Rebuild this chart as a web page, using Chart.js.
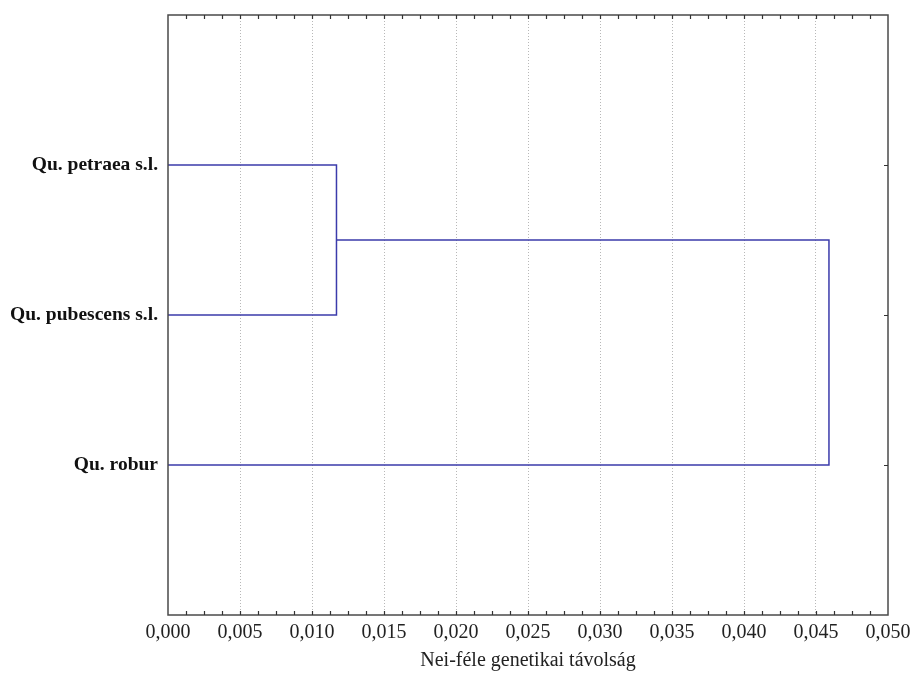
<!DOCTYPE html>
<html>
<head>
<meta charset="utf-8">
<script src="https://cdn.jsdelivr.net/npm/chart.js@4/dist/chart.umd.min.js"></script>
<style>
	body { margin: 0; background: #fff; }
	canvas { display: block; }
</style>
</head>
<body>
<canvas id="dendro" width="915" height="679"></canvas>
<script>
// leaves, top to bottom
const species = ["Qu. petraea s.l.", "Qu. pubescens s.l.", "Qu. robur"];
// merges: [left child, right child, distance]; children >= species.length are earlier merges
const mergeLeft = [0, 3];
const mergeRight = [1, 2];
const mergeHeights = [0.0117, 0.0459];
const xTicks = [0, 0.005, 0.01, 0.015, 0.02, 0.025, 0.03, 0.035, 0.04, 0.045, 0.05];

const lineColor = "#3b3bab";
const serif = "'Liberation Serif', 'Times New Roman', serif";

// position and height of every node (leaves first, then merges)
var nodeY = species.map((s, i) => i + 1);
var nodeH = species.map(() => 0);
var segments = [];
mergeHeights.forEach((h, i) => {
	var a = mergeLeft[i], b = mergeRight[i];
	segments.push([
		{x: nodeH[a], y: nodeY[a]},
		{x: h, y: nodeY[a]},
		{x: h, y: nodeY[b]},
		{x: nodeH[b], y: nodeY[b]}
	]);
	nodeY.push((nodeY[a] + nodeY[b]) / 2);
	nodeH.push(h);
});

const frame = {
	id: "frame",
	afterDraw(chart) {
		const ctx = chart.ctx;
		const a = chart.chartArea;
		const xs = chart.scales.x;
		const ys = chart.scales.y;
		ctx.save();
		ctx.strokeStyle = "#4a4a4a";
		ctx.lineWidth = 1.5;
		ctx.strokeRect(a.left, a.top, a.right - a.left, a.bottom - a.top);
		ctx.lineWidth = 1.2;
		ctx.strokeStyle = "#333";
		ctx.beginPath();
		// small inward ticks on the top and bottom, quarter steps
		for (var k = 1; k < 40; k++) {
			var px = Math.round(xs.getPixelForValue(k * 0.00125)) + 0.5;
			ctx.moveTo(px, a.bottom);
			ctx.lineTo(px, a.bottom - 4);
			ctx.moveTo(px, a.top);
			ctx.lineTo(px, a.top + 4);
		}
		// right side ticks at each leaf
		species.forEach((s, i) => {
			var py = Math.round(ys.getPixelForValue(i + 1)) + 0.5;
			ctx.moveTo(a.right, py);
			ctx.lineTo(a.right - 4, py);
		});
		ctx.stroke();
		ctx.restore();
	}
};

new Chart(document.getElementById("dendro"), {
	type: "scatter",
	data: {
		datasets: segments.map(seg => ({
			data: seg,
			showLine: true,
			borderColor: lineColor,
			borderWidth: 1.5,
			pointRadius: 0,
			tension: 0
		}))
	},
	options: {
		responsive: false,
		animation: false,
		layout: { padding: { top: 15, right: 27, left: 0, bottom: 0 } },
		plugins: { legend: { display: false }, tooltip: { enabled: false } },
		scales: {
			x: {
				type: "linear",
				min: 0,
				max: 0.05,
				afterBuildTicks: scale => { scale.ticks = xTicks.map(v => ({value: v})); },
				afterFit: scale => {
					scale.height = 64;
					scale.paddingLeft = 0;
					scale.paddingRight = 0;
				},
				border: { display: false, dash: [1, 2] },
				grid: {
					drawTicks: false,
					color: c => (c.tick && c.tick.value > 1e-9 && c.tick.value < 0.05 - 1e-9) ? "#b8b8b8" : "rgba(0,0,0,0)",
					lineWidth: 1
				},
				ticks: {
					padding: 6,
					color: "#222",
					font: { family: serif, size: 20 },
					maxRotation: 0,
					callback: v => v.toFixed(3).replace(".", ",")
				},
				title: {
					display: true,
					text: "Nei-féle genetikai távolság",
					color: "#222",
					font: { family: serif, size: 20 },
					padding: { top: 3, bottom: 6 }
				}
			},
			y: {
				type: "linear",
				reverse: true,
				min: 0,
				max: 4,
				afterBuildTicks: scale => { scale.ticks = species.map((s, i) => ({value: i + 1})); },
				afterFit: scale => {
					scale.width = 168;
					scale.paddingTop = 0;
					scale.paddingBottom = 0;
				},
				border: { display: false },
				grid: { display: false, drawTicks: false },
				ticks: {
					padding: 10,
					color: "#111",
					font: { family: serif, size: 19.5, weight: "bold" },
					callback: v => species[v - 1] || ""
				}
			}
		}
	},
	plugins: [frame]
});
</script>
</body>
</html>
